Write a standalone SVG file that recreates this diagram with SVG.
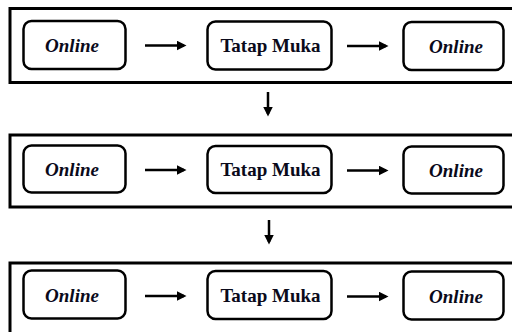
<svg xmlns="http://www.w3.org/2000/svg" width="512" height="332" viewBox="0 0 512 332">
<style>
.frame{fill:none;stroke:#000;stroke-width:3}
.box{fill:#fff;stroke:#000;stroke-width:2.5}
.t{font-family:'Liberation Serif','Times New Roman',serif;font-size:19px;font-weight:bold;fill:#0a0a1a;text-anchor:middle}
.i{font-style:italic}
.c{stroke:#000;stroke-width:2.5;fill:none}
</style>
<defs>
<marker id="ah" markerWidth="4" markerHeight="4" refX="3" refY="2" orient="auto" markerUnits="strokeWidth">
<path d="M0,0 L4,2 L0,4 Z" fill="#000"/>
</marker>
</defs>
<rect width="512" height="332" fill="#fff"/>
<g id="frame1"><rect class="frame" x="10" y="8.5" width="520" height="74"/></g>
<g id="frame2"><rect class="frame" x="10" y="135" width="520" height="72"/></g>
<g id="frame3"><rect class="frame" x="10" y="263" width="520" height="90"/></g>
<g id="r1n1"><rect class="box" x="23.5" y="21" width="102" height="48" rx="8"/><text class="t i" x="72" y="51.5">Online</text></g>
<g id="r1n2"><rect class="box" x="207.5" y="21.5" width="124" height="48" rx="8"/><text class="t" x="270.5" y="52">Tatap Muka</text></g>
<g id="r1n3"><rect class="box" x="403.5" y="22" width="100" height="48" rx="8"/><text class="t i" x="456" y="52.5">Online</text></g>
<g id="r2n1"><rect class="box" x="23.5" y="145.5" width="102" height="47" rx="8"/><text class="t i" x="72" y="175.5">Online</text></g>
<g id="r2n2"><rect class="box" x="207.5" y="146" width="124" height="47" rx="8"/><text class="t" x="270.5" y="176">Tatap Muka</text></g>
<g id="r2n3"><rect class="box" x="403.5" y="146.5" width="100" height="47" rx="8"/><text class="t i" x="456" y="176.5">Online</text></g>
<g id="r3n1"><rect class="box" x="23.5" y="270.5" width="102" height="48" rx="8"/><text class="t i" x="72" y="301.5">Online</text></g>
<g id="r3n2"><rect class="box" x="207.5" y="271" width="124" height="48" rx="8"/><text class="t" x="270.5" y="302">Tatap Muka</text></g>
<g id="r3n3"><rect class="box" x="403.5" y="271.5" width="100" height="48" rx="8"/><text class="t i" x="456" y="302.5">Online</text></g>
<g id="connectors">
<line class="c" x1="145" y1="45.5" x2="184" y2="45.5" marker-end="url(#ah)"/>
<line class="c" x1="347" y1="46" x2="386" y2="46" marker-end="url(#ah)"/>
<line class="c" x1="145" y1="170" x2="184" y2="170" marker-end="url(#ah)"/>
<line class="c" x1="347" y1="170.5" x2="386" y2="170.5" marker-end="url(#ah)"/>
<line class="c" x1="145" y1="296" x2="184" y2="296" marker-end="url(#ah)"/>
<line class="c" x1="347" y1="296.5" x2="386" y2="296.5" marker-end="url(#ah)"/>
<line class="c" x1="268" y1="92" x2="268" y2="114" marker-end="url(#ah)"/>
<line class="c" x1="269" y1="220" x2="269" y2="242" marker-end="url(#ah)"/>
</g>
</svg>
